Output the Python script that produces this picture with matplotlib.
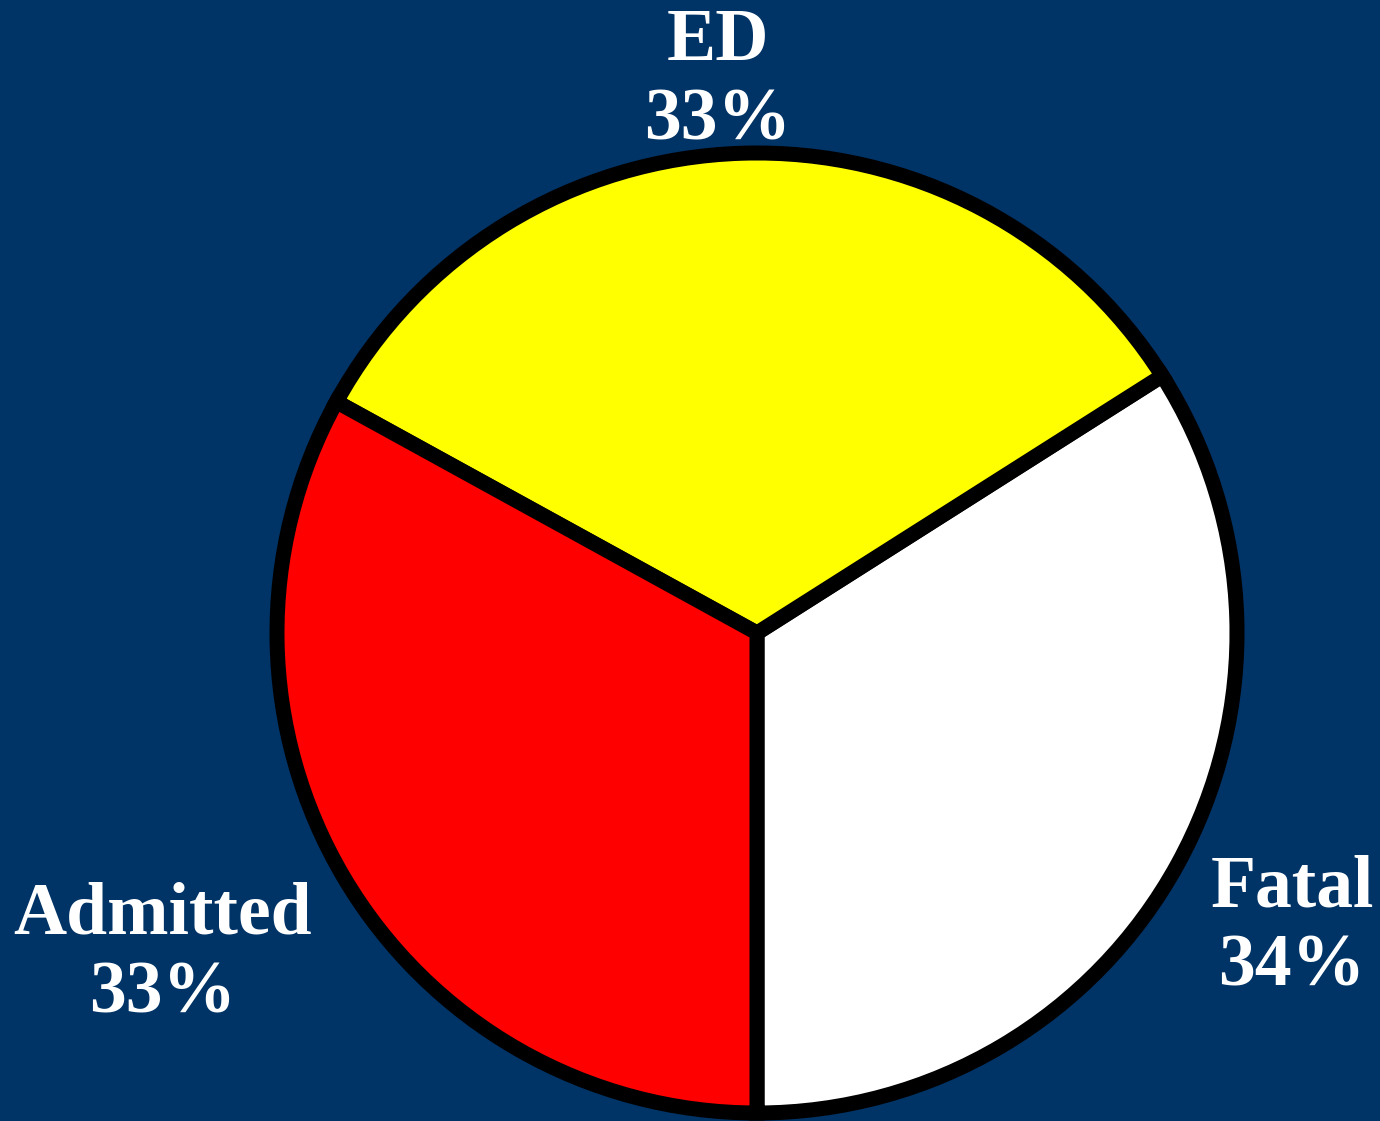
import matplotlib
matplotlib.use("Agg")
import matplotlib.pyplot as plt

categories = ["Fatal", "ED", "Admitted"]
values = [34, 33, 33]
labels = ["Fatal\n34%", "ED\n33%", "Admitted\n33%"]
colors = ["#FFFFFF", "#FFFF00", "#FF0000"]

bg = "#003366"
W, H = 1380, 1121
fig = plt.figure(figsize=(W / 100, H / 100), dpi=100, facecolor=bg)
ax = fig.add_axes([0, 0, 1, 1])
ax.set_facecolor(bg)

cx, cy, r = 757, H - 633, 480
ax.pie(values, colors=colors, startangle=-90, counterclock=True,
       center=(cx, cy), radius=r, frame=True,
       wedgeprops=dict(edgecolor="black", linewidth=10.8, joinstyle="miter"))
ax.set_xlim(0, W)
ax.set_ylim(0, H)
ax.set_aspect("equal")
ax.axis("off")

label_pos = [(1292, H - 928), (718, H - 82), (163, H - 955)]
for lab, (x, y) in zip(labels, label_pos):
    ax.text(x, y, lab, ha="center", va="center", color="white",
            fontsize=53, fontweight="bold", family="Liberation Serif",
            linespacing=1.22)

fig.savefig("out.png", dpi=100, facecolor=bg)
